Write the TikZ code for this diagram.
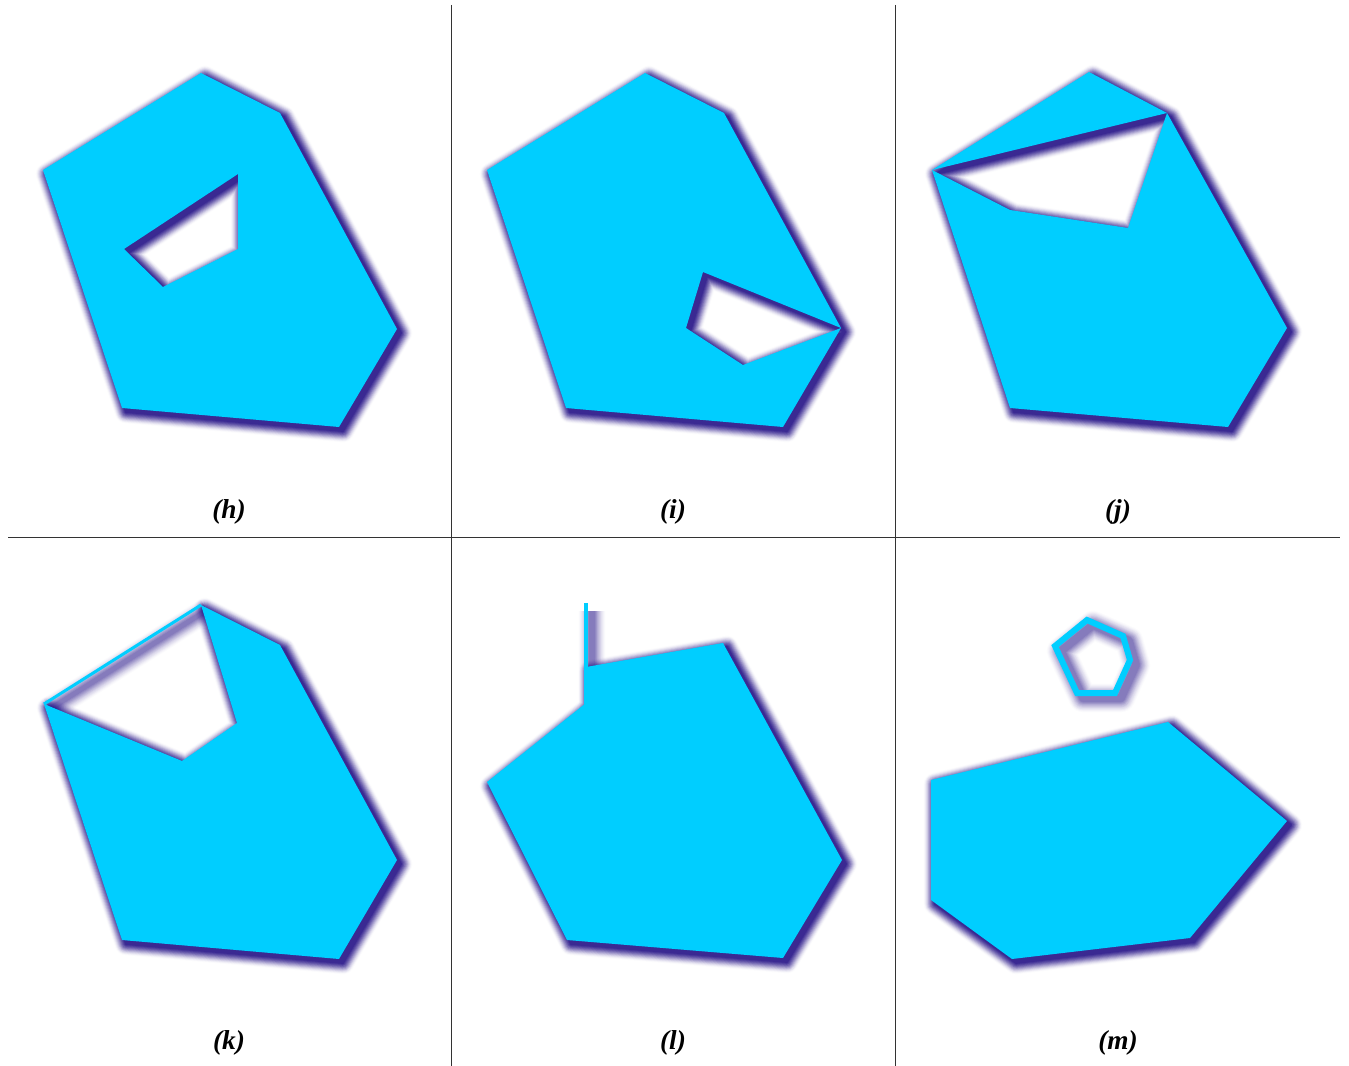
\documentclass[tikz,border=0pt]{standalone}
\usepackage{fontspec}
\setmainfont{Liberation Serif}

\definecolor{polyfill}{RGB}{0,206,255}
\definecolor{shadowc}{RGB}{20,0,125}

% soft shadow of a filled region, offset down and right
\newcommand{\areashadow}[1]{%
  \foreach \k in {1,...,12} {
    \pgfmathsetmacro\op{0.28-0.022*\k}
    \begin{scope}[transparency group, opacity=\op]
      \filldraw[shadowc, line width=1.4*\k, line join=round, even odd rule,
                shift={(4,4)}] #1;
    \end{scope}
  }
}
% soft shadow of a stroked line of width #1
\newcommand{\lineshadow}[2]{%
  \foreach \k in {1,...,12} {
    \pgfmathsetmacro\op{0.11-0.008*\k}
    \begin{scope}[transparency group, opacity=\op]
      \draw[shadowc, line width=#1+1.4*\k, line join=round, shift={(6,5)}] #2;
    \end{scope}
  }
}

\tikzset{
  poly/.style={fill=polyfill, even odd rule},
  edge/.style={polyfill, line join=miter},
  lab/.style={font=\fontsize{20.5}{24}\selectfont\bfseries\itshape}
}

\begin{document}
\begin{tikzpicture}[x=0.75pt, y=-0.75pt]
    \useasboundingbox (0,0) rectangle (1349,1066);

    \draw[black!80, line width=0.75pt] (451,5) -- (451,1066);
    \draw[black!80, line width=0.75pt] (895,5) -- (895,1066);
    \draw[black!80, line width=0.75pt] (8,537) -- (1340,537);

    % (h)
    \areashadow{(201,73) -- (280,113) -- (397,329) -- (339,427) -- (122,408) -- (43,170) -- cycle
        (238,174) -- (238,249) -- (163,287) -- (124,249) -- cycle}
    \fill[poly] (201,73) -- (280,113) -- (397,329) -- (339,427) -- (122,408) -- (43,170) -- cycle
        (238,174) -- (238,249) -- (163,287) -- (124,249) -- cycle;
    \node[lab] (labh) at (229,512) {(h)};

    % (i)
    \areashadow{(645,73) -- (724,113) -- (841,328) -- (783,427) -- (566,408) -- (487,170) -- cycle
        (703,272) -- (841,328) -- (743,365) -- (686,328) -- cycle}
    \fill[poly] (645,73) -- (724,113) -- (841,328) -- (783,427) -- (566,408) -- (487,170) -- cycle
        (703,272) -- (841,328) -- (743,365) -- (686,328) -- cycle;
    \node[lab] (labi) at (673,512) {(i)};

    % (j)
    \areashadow{(1089,72) -- (1167,113) -- (1287,328) -- (1228,427) -- (1010,408) -- (932,170) -- cycle
        (932,170) -- (1167,113) -- (1128,228) -- (1010,210) -- cycle}
    \fill[poly] (1089,72) -- (1167,113) -- (1287,328) -- (1228,427) -- (1010,408) -- (932,170) -- cycle
        (932,170) -- (1167,113) -- (1128,228) -- (1010,210) -- cycle;
    \node[lab] (labj) at (1118,512) {(j)};

    % (k)
    \areashadow{(201,605) -- (280,645) -- (397,860) -- (339,959) -- (122,940) -- (44,704) -- (182,761) -- (237,723) -- cycle}
    \lineshadow{2.25pt}{(44,704) -- (201,605)}
    \fill[poly] (201,605) -- (280,645) -- (397,860) -- (339,959) -- (122,940) -- (44,704) -- (182,761) -- (237,723) -- cycle;
    \draw[edge, line width=2.25pt] (44,704) -- (201,605);
    \node[lab] (labk) at (229,1043) {(k)};

    % (l)
    \areashadow{(586,667) -- (723,643) -- (842,860) -- (783,958) -- (567,940) -- (487,782) -- (586,703) -- cycle}
    \lineshadow{3pt}{(586,606) -- (586,703)}
    \fill[poly] (586,667) -- (723,643) -- (842,860) -- (783,958) -- (567,940) -- (487,782) -- (586,703) -- cycle;
    \draw[edge, line width=3pt] (586,603) -- (586,705);
    \node[lab] (labl) at (673,1043) {(l)};

    % (m)
    \lineshadow{4.5pt}{(1087,620) -- (1123,636) -- (1130,660) -- (1115,693) -- (1077,693) -- (1055,646) -- cycle}
    \areashadow{(931,780) -- (1168,722) -- (1287,821) -- (1190,938) -- (1012,959) -- (931,900) -- cycle}
    \draw[edge, line width=4.5pt] (1087,620) -- (1123,636) -- (1130,660) -- (1115,693) -- (1077,693) -- (1055,646) -- cycle;
    \fill[poly] (931,780) -- (1168,722) -- (1287,821) -- (1190,938) -- (1012,959) -- (931,900) -- cycle;
    \node[lab] (labm) at (1118,1043) {(m)};
\end{tikzpicture}
\end{document}
